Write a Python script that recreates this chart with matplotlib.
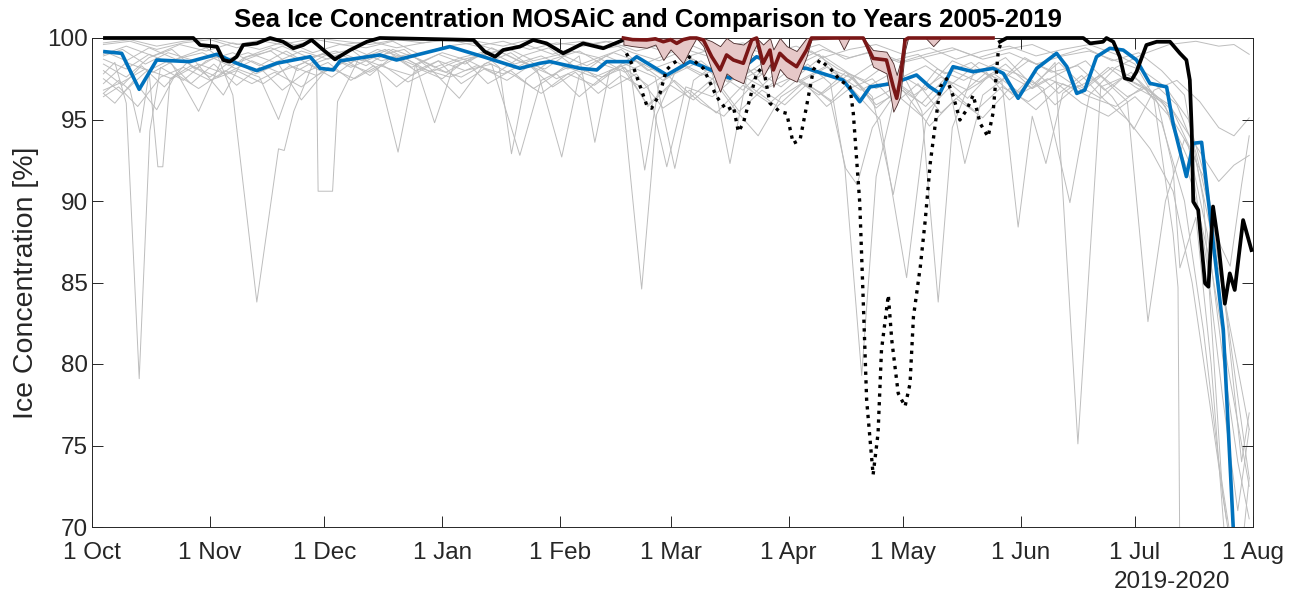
import matplotlib
matplotlib.use("Agg")
import matplotlib.pyplot as plt
import numpy as np

plt.rcParams['font.family'] = ['Liberation Sans', 'DejaVu Sans']

# Days since 1 Oct 2019
month_ticks = [0, 31, 61, 92, 123, 152, 183, 213, 244, 274, 305]
month_labels = ['1 Oct', '1 Nov', '1 Dec', '1 Jan', '1 Feb', '1 Mar',
                '1 Apr', '1 May', '1 Jun', '1 Jul', '1 Aug']

# ---- comparison years 2005-2019 (thin grey) ----
g05_day = [3, 6, 9, 12.4, 15.2, 18, 24, 30, 37, 44, 51, 56, 59, 59.4, 63.2, 64.5, 70, 77, 84, 91, 98, 105, 112, 119,
           126, 133, 140, 147, 154, 161, 168, 175, 182, 189, 196, 203, 210, 217, 224, 231, 238, 245, 252, 259, 266,
           273, 279, 284, 285.3, 286]
g05_ice = [97.8, 98.5, 96.0, 79.1, 94.3, 98.2, 97.4, 98.6, 99.1, 98.3, 99.2, 98.5, 98.2, 90.6, 90.6, 96.1, 98.7, 99.3,
           98.2, 99.0, 98.4, 99.4, 98.6, 98.1, 99.2, 98.8, 97.9, 98.6, 99.3, 98.0, 98.8, 97.6, 98.9, 99.2, 98.1, 97.4,
           98.6, 99.0, 97.8, 98.5, 97.2, 98.8, 97.9, 98.3, 96.8, 97.9, 96.2, 88.0, 84.7, 60.0]
g06_day = [3, 7, 10, 12.6, 15, 17.3, 18.6, 20.5, 26, 33, 40, 47, 54, 61, 68, 75, 80.4, 85, 92, 99, 106, 113, 120, 127,
           134, 141, 145.2, 149, 156, 163, 170, 177, 184, 191, 198, 205, 212, 219, 226, 233, 240, 247, 254, 261, 268,
           275, 282, 289, 294, 299, 304]
g06_ice = [96.6, 97.4, 96.8, 94.2, 97.9, 92.1, 92.1, 97.5, 98.3, 97.6, 98.8, 99.2, 98.0, 98.9, 99.3, 98.1, 93.0, 98.4,
           99.1, 98.6, 97.8, 98.9, 99.4, 98.2, 97.6, 98.7, 91.9, 97.2, 98.3, 97.5, 98.8, 96.9, 98.2, 99.0, 97.3, 98.4,
           97.8, 96.8, 98.6, 97.9, 98.8, 97.1, 98.5, 96.9, 98.2, 97.4, 95.8, 91.0, 86.0, 79.0, 72.5]
g07_day = [3, 9, 15, 21, 27, 33, 37, 43.3, 49, 50.5, 53, 58, 65, 72, 79, 86, 93, 100, 107, 114, 121, 128, 132.1, 136,
           143, 150, 157, 164, 171, 178, 185, 192, 199, 206, 213, 218, 222.3, 226, 232, 239, 246, 253, 260, 267, 274,
           281, 288, 293, 297, 301, 304]
g07_ice = [98.4, 97.6, 98.8, 99.3, 98.1, 98.9, 96.5, 83.8, 93.2, 93.1, 95.5, 98.4, 99.0, 98.3, 99.3, 98.7, 97.9, 98.8,
           99.2, 98.4, 97.7, 98.9, 93.6, 98.0, 98.6, 97.4, 98.8, 97.9, 96.8, 98.5, 97.6, 98.9, 97.8, 96.9, 97.8, 95.5,
           83.8, 94.5, 98.1, 97.4, 98.6, 97.9, 96.8, 98.2, 97.0, 96.1, 93.4, 88.0, 80.5, 74.0, 70.5]
g08_day = [3, 9, 16, 23, 30, 37, 44, 49, 54, 61, 68, 75, 82, 89, 96, 103, 107, 110.2, 114, 121, 128, 134, 138.7, 144.4,
           148.3, 153, 160, 167, 174, 181, 188, 194, 197.8, 202.2, 206, 212, 219, 226, 233, 240, 247, 253, 259, 265,
           271, 278, 284, 290, 295, 300, 304]
g08_ice = [97.2, 98.5, 97.9, 98.8, 99.4, 98.2, 97.6, 95.0, 98.3, 99.1, 98.5, 99.3, 98.8, 97.9, 98.6, 99.0, 98.2, 92.9,
           97.5, 98.7, 99.2, 98.4, 98.0, 84.6, 95.3, 97.8, 98.6, 97.3, 98.1, 97.0, 98.4, 97.2, 92.0, 79.3, 91.5, 97.5,
           98.3, 97.2, 98.5, 97.8, 96.9, 98.5, 75.1, 97.0, 97.6, 96.8, 95.5, 92.5, 87.0, 81.0, 76.0]
g09_day = [3, 8, 14, 20, 27, 34.5, 40, 47, 54, 61, 68, 75, 82, 89, 96.5, 103, 110, 117, 123.4, 128, 135, 142, 148,
           153.1, 158, 165, 172, 179, 186, 193, 200, 207, 214, 219, 226, 233, 240, 247, 254, 261, 267, 272, 277.4,
           282, 287, 292, 297, 301, 304]
g09_ice = [98.9, 99.3, 98.4, 99.1, 98.6, 96.5, 98.8, 99.4, 98.7, 99.0, 98.2, 98.9, 99.3, 98.1, 96.3, 98.4, 99.1, 98.0,
           92.7, 97.7, 98.9, 98.2, 97.6, 92.0, 97.4, 98.6, 97.8, 98.9, 97.4, 98.3, 96.8, 95.0, 85.3, 94.8, 98.0, 97.3,
           98.4, 96.9, 97.8, 98.6, 97.2, 96.1, 82.6, 90.0, 93.8, 91.5, 85.0, 78.0, 73.0]
g10_day = [3, 9, 15, 22, 29, 36, 43, 50, 57, 64, 71, 78, 85, 90, 95, 102, 109, 116, 123, 130, 137, 144, 151, 158, 163,
           167.6, 172, 179, 186, 193, 200, 205, 210.5, 215, 222, 229, 236, 243, 250, 256.9, 262, 269, 276, 283, 290,
           296, 300, 304]
g10_ice = [99.2, 98.6, 99.4, 98.7, 99.1, 98.3, 98.9, 99.5, 98.8, 99.2, 98.6, 99.3, 98.4, 94.8, 98.3, 98.9, 99.4, 98.6,
           99.0, 98.3, 99.1, 98.5, 97.6, 98.7, 97.8, 92.3, 97.6, 98.5, 97.3, 98.2, 97.5, 96.4, 90.4, 96.0, 98.1, 97.4,
           98.3, 97.8, 96.9, 89.9, 96.5, 98.2, 99.0, 99.6, 99.8, 99.5, 99.6, 99.0]
g11_day = [3, 8, 14, 21, 28, 35, 42, 49, 56, 63, 70, 77, 84, 91, 98, 105, 112.4, 118, 125, 132, 139, 146, 151, 156,
           163, 170, 177, 184, 191, 198, 205, 212, 219, 225, 229.3, 234, 239, 243.3, 247, 250.6, 255, 262, 268,
           273.7, 279, 285, 291, 296, 300, 304]
g11_ice = [96.8, 97.3, 98.1, 97.5, 98.4, 97.8, 98.6, 97.9, 98.5, 97.6, 98.8, 98.2, 97.7, 98.6, 98.0, 98.4, 92.8, 97.4,
           98.2, 97.6, 98.3, 97.1, 92.1, 97.0, 96.4, 97.8, 96.9, 97.6, 96.5, 97.9, 96.2, 97.1, 95.8, 97.3, 92.3, 96.5,
           97.4, 88.4, 95.2, 92.3, 96.6, 97.8, 96.4, 94.4, 96.8, 97.4, 96.1, 94.5, 94.0, 95.1]
g12_day = [3, 7, 12, 18, 24, 31, 38, 45, 52, 59, 66, 73, 80, 87, 94, 101, 108, 115, 122, 129, 136, 143, 150, 157, 164,
           171, 178, 185, 192, 199, 206, 213, 220, 227, 234, 241, 248, 255, 262, 269, 276, 283, 290, 296, 300, 304]
g12_ice = [96.4, 97.0, 95.8, 97.6, 98.2, 97.4, 98.0, 97.2, 98.3, 97.7, 98.5, 97.9, 98.8, 98.1, 97.6, 98.3, 97.8, 98.6,
           97.5, 98.2, 96.9, 97.8, 95.7, 96.8, 95.4, 97.1, 96.0, 97.4, 96.6, 97.8, 95.9, 96.8, 94.6, 96.3, 95.1, 96.9,
           95.6, 97.2, 96.4, 95.8, 97.0, 95.9, 93.4, 91.2, 92.2, 92.8]
g13_day = [3, 10, 17, 24, 31, 38, 45, 52, 59, 66, 73, 80, 87, 94, 101, 108, 115, 122, 129, 136, 143, 150, 157, 164,
           171, 178, 185, 192, 199, 206, 213, 220, 227, 234, 241, 248, 255, 262, 269, 274, 280, 284, 285.8, 290, 294,
           298]
g13_ice = [99.6, 99.8, 99.3, 99.7, 99.9, 99.4, 99.8, 99.5, 99.9, 99.6, 99.8, 99.4, 99.7, 99.9, 99.5, 99.8, 99.3, 99.7,
           99.5, 99.8, 99.2, 99.6, 98.9, 99.4, 99.7, 99.1, 99.5, 98.8, 99.3, 99.6, 99.0, 99.4, 98.7, 99.2, 99.5, 98.9,
           99.3, 99.6, 99.0, 98.4, 96.0, 92.0, 85.9, 89.0, 80.0, 68.0]
g14_day = [3, 8, 14, 20, 26, 32, 38, 44, 50, 56, 62, 68, 74, 80, 86, 92, 98, 104, 110, 116, 122, 128, 134, 140, 146,
           152, 158, 164, 170, 176, 182, 188, 194, 200, 206, 212, 218, 224, 230, 236, 242, 248, 254, 260, 266, 272,
           278, 284, 289, 294, 298]
g14_ice = [97.5, 96.6, 97.9, 98.6, 97.2, 98.4, 97.1, 98.2, 96.8, 97.9, 98.5, 97.4, 98.3, 97.0, 98.1, 97.5, 98.6, 97.2,
           98.0, 96.9, 97.8, 96.4, 97.6, 98.2, 95.8, 97.1, 96.2, 97.4, 95.5, 96.8, 95.9, 97.2, 96.1, 97.6, 95.7, 96.9,
           96.0, 97.5, 96.3, 97.8, 96.5, 97.9, 96.6, 97.7, 96.2, 95.0, 93.2, 90.6, 85.0, 77.0, 70.5]
g15_day = [3, 9, 16, 23, 30, 37, 44, 51, 58, 65, 72, 79, 86, 93, 100, 107, 114, 121, 128, 135, 142, 149, 156, 163, 170,
           177, 184, 191, 198, 205, 212, 219, 226, 233, 240, 247, 254, 261, 268, 275, 281, 287, 292, 297, 301, 304]
g15_ice = [99.0, 99.5, 98.9, 99.6, 99.2, 99.7, 99.3, 99.8, 99.1, 99.6, 99.4, 99.8, 99.0, 99.5, 99.7, 99.2, 99.6, 99.0,
           99.5, 99.8, 99.1, 98.6, 99.3, 98.8, 99.5, 98.4, 99.1, 99.6, 98.7, 99.2, 98.5, 99.0, 99.4, 98.8, 99.3, 99.6,
           98.9, 99.4, 98.6, 99.1, 98.0, 96.5, 90.0, 72.0, 66.0, 73.0]
g16_day = [3, 8, 13, 19, 25, 31, 37, 43, 49, 55, 61, 67, 73, 79, 85, 91, 97, 103, 109, 115, 121, 127, 133, 139, 145,
           151, 157, 163, 169, 175, 181, 187, 193, 199, 205, 211, 217, 223, 229, 235, 241, 247, 253, 259, 265, 271,
           277, 283, 289, 293, 297, 301, 304]
g16_ice = [98.0, 97.1, 98.3, 97.0, 98.5, 97.6, 98.7, 97.8, 98.4, 96.2, 97.9, 98.6, 97.7, 98.9, 98.0, 98.6, 97.2, 98.1,
           97.4, 98.3, 97.0, 97.9, 96.6, 97.7, 96.9, 97.8, 96.3, 97.5, 95.6, 94.0, 96.4, 97.3, 95.8, 96.9, 97.5, 96.0,
           97.2, 95.4, 96.7, 97.9, 96.2, 97.4, 95.9, 97.1, 96.3, 97.6, 96.8, 95.2, 92.0, 86.0, 78.0, 71.0, 76.0]
g17_day = [3, 6, 11, 17, 22, 28, 35, 42, 48, 55, 62, 69, 76, 83, 90, 97, 104, 111, 118, 125, 132, 139, 146, 153, 160,
           166, 173, 180, 187, 194, 198, 201, 205, 211, 218, 225, 232, 239, 246, 253, 260, 267, 274, 281, 287, 292,
           296, 300]
g17_ice = [96.6, 96.0, 97.4, 95.6, 97.8, 96.9, 98.0, 97.2, 97.9, 97.0, 98.2, 97.5, 98.4, 97.3, 98.1, 97.6, 98.5, 97.7,
           96.6, 97.8, 97.1, 98.3, 95.9, 97.4, 96.0, 95.2, 97.0, 95.8, 97.3, 96.2, 92.0, 91.0, 94.5, 96.6, 95.2, 96.9,
           95.5, 97.0, 96.1, 97.3, 96.0, 95.2, 96.4, 94.8, 90.0, 82.0, 74.0, 68.0]
g18_day = [3, 9, 15, 21, 28, 34, 41, 48, 55, 62, 69, 76, 83, 90, 97, 104, 111, 118, 125, 132, 139, 146, 153, 160, 167,
           174, 181, 188, 195, 202, 209, 216, 223, 230, 237, 244, 251, 258, 265, 272, 279, 285, 290, 295, 299, 302,
           304]
g18_ice = [98.7, 98.1, 99.0, 98.4, 95.5, 98.6, 99.1, 98.5, 99.2, 98.7, 99.3, 98.6, 99.0, 98.2, 98.8, 99.2, 98.4, 98.9,
           98.1, 98.7, 99.3, 98.0, 98.6, 97.7, 98.4, 96.6, 98.2, 97.1, 97.9, 96.8, 97.7, 96.5, 97.6, 96.8, 97.8, 96.6,
           97.5, 96.9, 97.7, 96.4, 97.2, 95.9, 93.0, 88.0, 86.0, 91.0, 94.0]
g19_day = [3, 10, 17, 24, 31, 38, 45, 52, 59, 66, 73, 80, 87, 94, 101, 108, 115, 122, 129, 136, 143, 150, 157, 164,
           171, 178, 185, 192, 199, 206, 213, 220, 227, 234, 241, 248, 255, 262, 269, 276, 282, 288, 293, 298, 302,
           304]
g19_ice = [99.7, 99.9, 99.5, 99.8, 100.0, 99.6, 99.9, 99.7, 100.0, 99.8, 99.6, 99.9, 99.7, 100.0, 99.8, 99.5, 99.9,
           99.6, 99.8, 99.4, 99.7, 99.2, 99.6, 98.9, 99.4, 99.0, 98.6, 99.3, 98.8, 99.2, 98.5, 98.9, 99.3, 98.7, 99.1,
           98.4, 98.9, 99.2, 98.6, 98.0, 97.0, 95.0, 91.0, 83.0, 74.0, 77.0]

# ---- mean of comparison years (blue) ----
mean_day = [3.4, 7.8, 12.4, 17, 25.7, 32.8, 38, 43.3, 48.5, 57.3, 59.9, 63.4, 65.2, 75.6, 80, 94, 102.8, 112.4, 117.7,
            120.3, 128.2, 132.6, 135.2, 141.4, 143.1, 151, 157.1, 160.6, 167.6, 174.6, 181.6, 187.7, 197.3, 201.7,
            204.4, 210.5, 216.6, 220.1, 222.7, 226.2, 231.5, 236.7, 239.4, 243.3, 248.2, 253.4, 256.1, 258.7, 260.8,
            263.9, 267.4, 270.9, 274.4, 277.9, 282.3, 284, 287.5, 289.3, 291.5, 297.2, 299.8, 302]
mean_ice = [99.16, 99.06, 96.85, 98.65, 98.55, 99.0, 98.45, 98.0, 98.45, 98.85, 98.14, 98.04, 98.6, 98.96, 98.65,
            99.47, 98.85, 98.14, 98.45, 98.55, 98.14, 98.04, 98.55, 98.55, 98.85, 97.73, 98.55, 98.24, 97.53, 98.85,
            98.24, 98.14, 97.42, 96.09, 97.0, 97.22, 97.73, 97.0, 96.6, 98.24, 97.93, 98.14, 97.83, 96.3, 98.14, 99.06,
            98.24, 96.6, 96.8, 98.85, 99.37, 99.26, 98.65, 97.22, 97.0, 94.77, 91.5, 93.54, 93.6, 82.1, 70.0, 64.0]

# ---- MOSAiC (black), gap filled by dotted segment ----
mosaic_day = [3.4, 26.6, 28.4, 32.8, 34.5, 36.2, 38, 39.7, 43.3, 46.8, 50.2, 52.9, 55.5, 57.7, 60.8, 63.8, 67.8, 72.2,
              75.6, 100.2, 103.2, 105.9, 108, 112.4, 115.9, 119.4, 123.8, 129, 134.3, 139.6, 140.0,
              238.5, 240.3, 260.4, 262.2, 265.6, 266.5, 268.3, 270, 271.3, 273.1, 274.4, 277, 279.7, 283.2, 285.8,
              287.5, 288.4, 288.9, 289.3, 290.6, 292.4, 293.3, 294.5, 295.9, 297.6, 298.9, 300.2, 302.4, 304.6]
mosaic_ice = [100, 100, 99.57, 99.47, 98.65, 98.55, 98.85, 99.57, 99.67, 100, 99.77, 99.37, 99.57, 99.88, 99.26, 98.69,
              99.26, 99.77, 100, 99.88, 99.16, 98.85, 99.26, 99.47, 99.88, 99.67, 99.06, 99.67, 99.37, 99.88, np.nan,
              99.77, 100, 100, 99.67, 99.77, 100, 99.77, 98.85, 97.53, 97.42, 97.93, 99.57, 99.77, 99.77, 99.06,
              98.65, 97.42, 94.36, 89.96, 89.45, 84.95, 84.74, 89.66, 87.4, 83.7, 85.56, 84.54, 88.83, 86.99]
gap_day = [140.4, 142.2, 145.7, 147, 149.2, 150.9, 152.7, 156.2, 157.9, 160.6, 164.1, 166.7, 168.5, 169.8, 171.1,
           174.6, 176.3, 178.1, 180.7, 182.5, 184.2, 186, 187.7, 189.5, 191.2, 193.9, 196.5, 199.1, 200, 201.7, 202.6,
           203.5, 205.2, 206.5, 207.4, 209.2, 210.1, 211.8, 213.6, 214.9, 215.8, 217.6, 218.9, 220.2, 222.8, 224.5,
           226.3, 228, 229.8, 231.5, 233.3, 235.4, 236.7, 238.1, 239]
gap_ice = [99.06, 98.24, 95.9, 95.69, 96.6, 98.04, 98.45, 98.96, 98.65, 98.14, 96.4, 95.58, 95.79, 94.25, 94.77, 97.83,
           98.24, 96.0, 95.48, 95.38, 93.54, 93.74, 95.79, 98.04, 98.65, 98.14, 97.42, 97.0, 95.38, 89.86, 83.93, 77.8,
           73.2, 75.75, 80.86, 84.23, 81.47, 78.2, 77.4, 78.8, 82.9, 85.97, 88.83, 92.3, 97.0, 97.5, 96.4, 94.97, 95.6,
           96.5, 94.77, 93.94, 95.38, 99.26, 99.77]

# ---- ship-based estimate with range (dark red + band) ----
ship_day = [139.6, 142, 145.7, 148, 150.1, 152, 153.6, 155.3, 157.1, 158.8, 160.6, 162.8, 165, 166.7, 168.5, 171.1,
            173.3, 174.6, 176.3, 178.1, 179, 180.7, 182.5, 185.1, 187.7, 189, 196, 197.5, 199, 202.6, 205.2, 208.7,
            210.5, 211.4, 212.3, 213.6, 214.4, 219, 221, 223, 236.7]
ship_ice = [100, 99.9, 99.88, 99.95, 99.77, 99.9, 99.67, 99.9, 100, 100, 99.88, 98.85, 98.04, 98.96, 98.65, 98.45,
            99.88, 100, 98.45, 99.26, 98.04, 99.06, 98.65, 98.24, 99.26, 100, 100, 100, 100, 100, 98.75, 98.65, 97.0,
            96.3, 97.42, 99.88, 100, 100, 100, 100, 100]
ship_lo = [99.6, 99.5, 99.4, 99.6, 98.65, 99.3, 98.9, 98.45, 99.3, 100, 99.5, 98.04, 96.7, 97.83, 97.5, 97.22, 99.0,
           99.6, 97.63, 98.4, 97.0, 98.1, 97.6, 97.32, 98.85, 99.9, 100, 99.3, 100, 100, 98.24, 97.83, 95.48, 95.9,
           96.4, 99.26, 100, 100, 99.5, 100, 100]
ship_hi = [100, 100, 100, 100, 100, 100, 100, 100, 100, 100, 100, 99.8, 99.5, 100, 99.7, 99.6, 100, 100, 99.6, 100,
           99.3, 100, 99.5, 99.2, 100, 100, 100, 100, 100, 100, 99.26, 99.16, 98.45, 97.73, 98.5, 100, 100, 100, 100,
           100, 100]

grey_years = [(g05_day, g05_ice), (g06_day, g06_ice), (g07_day, g07_ice), (g08_day, g08_ice), (g09_day, g09_ice),
              (g10_day, g10_ice), (g11_day, g11_ice), (g12_day, g12_ice), (g13_day, g13_ice), (g14_day, g14_ice),
              (g15_day, g15_ice), (g16_day, g16_ice), (g17_day, g17_ice), (g18_day, g18_ice), (g19_day, g19_ice)]

fig = plt.figure(figsize=(12.99, 5.96), dpi=100)
ax = fig.add_axes([92 / 1299, 69 / 596, 1161 / 1299, 489 / 596])

for d, v in grey_years:
    ax.plot(d, v, color='#bdbdbd', lw=0.7, zorder=1)

ax.plot(mean_day, mean_ice, color='#0072BD', lw=2.6, zorder=3)
ax.plot(mosaic_day, mosaic_ice, color='black', lw=2.7, zorder=4, clip_on=False)
ax.plot(gap_day, gap_ice, color='black', lw=2.4, ls=(0, (1, 1.6)), zorder=4, clip_on=False)
ax.fill_between(ship_day, ship_lo, ship_hi, facecolor='#e6c8c8', edgecolor='#4a2a2a', lw=0.6, zorder=5)
ax.plot(ship_day, ship_ice, color='#7a1616', lw=2.6, zorder=6, clip_on=False)

ax.set_xlim(0, 305)
ax.set_ylim(70, 100)
ax.set_xticks(month_ticks)
ax.set_xticklabels(month_labels)
ax.set_yticks([70, 75, 80, 85, 90, 95, 100])
ax.tick_params(direction='in', length=8, width=0.7, color='#262626', labelsize=17.5,
               top=True, right=True, labelcolor='#262626')
ax.tick_params(axis='x', pad=11)
ax.tick_params(axis='y', pad=3)
for s in ax.spines.values():
    s.set_color('#262626')
    s.set_linewidth(0.7)

ax.set_ylabel('Ice Concentration [%]', fontsize=20.5, color='#262626', labelpad=6)
fig.text(648 / 1299, 1 - 27 / 596, 'Sea Ice Concentration MOSAiC and Comparison to Years 2005-2019',
         ha='center', va='baseline', fontsize=18.5, fontweight='bold')
fig.text(1172 / 1299, 1 - 582 / 596, '2019-2020', ha='center', va='center', fontsize=17.5, color='#262626')

fig.savefig('out.png', dpi=100)
